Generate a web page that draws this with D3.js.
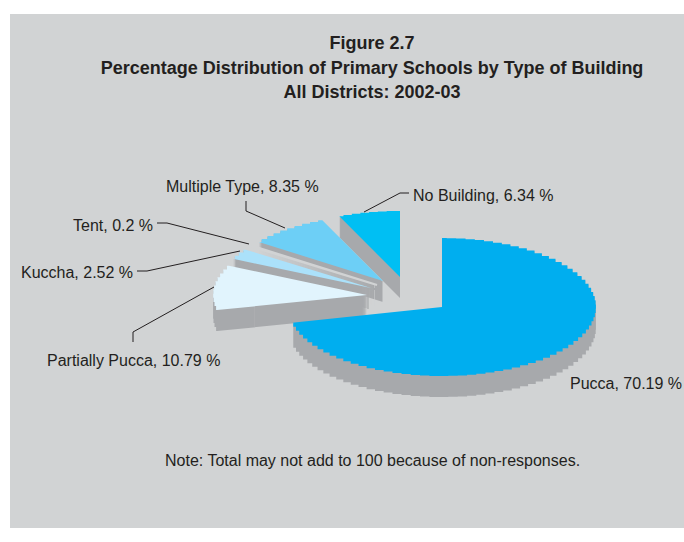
<!DOCTYPE html>
<html><head><meta charset="utf-8">
<style>html,body{margin:0;padding:0;background:#fff}svg{display:block}</style>
<script src="https://cdn.jsdelivr.net/npm/d3@7/dist/d3.min.js"></script></head>
<body><svg id="c" width="684" height="542"></svg>
<script>
const categories = ["Pucca","Partially Pucca","Kuccha","Tent","Multiple Type","No Building"];
const shares = [70.19,10.79,2.52,0.2,8.35,6.34];
const labelTexts = ["Pucca, 70.19 %","Partially Pucca, 10.79 %","Kuccha, 2.52 %","Tent, 0.2 %","Multiple Type, 8.35 %","No Building, 6.34 %"];
const titleLines = ["Figure 2.7","Percentage Distribution of Primary Schools by Type of Building","All Districts: 2002-03"];
const noteText = "Note: Total may not add to 100 because of non-responses.";

const BG="#d1d3d4", WALL="#a7a9ac", INK="#231f20";
const fills=["#00aeef",  "#e1f4fd","#abe1fa",BG,"#6dcff6","#00bff3"];
const walls=[WALL,WALL,WALL,BG,WALL,WALL];
const apex=[[442,307],[367,295],[371,288],[377,285],[383,281],[400,277]];
const radiiY=[69,66,66,66,66,66];
const labelPos=[[570,389],[47,366],[21,278],[73,231],[166,192],[413,201]];
const leaders=[null,
 [[133,342],[133,332],[214,287]],
 [[137,271],[147,271],[240,251]],
 [[157,223],[167,223],[249,244]],
 [[246,201],[246,211],[285,228]],
 [[409,193],[400,193],[364,212]]];
const RX=154, DEPTH=21;

const svg=d3.select("#c");
svg.append("rect").attr("x",10).attr("y",14).attr("width",674).attr("height",514).attr("fill",BG);

const t=svg.append("g").attr("font-family","'Liberation Sans',Arial,sans-serif").attr("font-weight","bold").attr("font-size",18).attr("fill",INK).attr("text-anchor","middle");
titleLines.forEach((s,i)=>t.append("text").attr("x",372).attr("y",[49,74,98][i]).text(s));

const pie=d3.pie().sort(null).value(d=>d);
const arcs=pie(shares);
const step=d3.line().curve(d3.curveStep);
function wedge(a,i,dy){
  const [cx,cy]=apex[i];
  const n=Math.max(1,Math.round((a.endAngle-a.startAngle)/(3.5*Math.PI/180)));
  const pts=d3.range(n+1).map(k=>{
    const th=a.startAngle+(a.endAngle-a.startAngle)*k/n;
    return [cx+RX*Math.sin(th),cy+dy-radiiY[i]*Math.cos(th)];
  });
  return `M${cx},${cy+dy}L${pts[0]}`+step(pts).replace(/^M[^L]*/,"")+"Z";
}
const order=[5,4,3,2,1,0];
const pg=svg.append("g");
order.forEach(i=>{
  const a=arcs[i];
  pg.append("path").attr("fill",walls[i]).attr("d",d3.range(1,DEPTH+1).map(d=>wedge(a,i,d)).join(""));
  const top=pg.append("path").attr("fill",fills[i]).attr("d",wedge(a,i,0));
  if(categories[i]==="Tent") top.attr("stroke",BG).attr("stroke-width",2);
});

const line=d3.line();
leaders.forEach(l=>{ if(l) svg.append("path").attr("d",line(l)).attr("fill","none").attr("stroke",INK).attr("stroke-width",1); });

const lg=svg.append("g").attr("font-family","'Liberation Sans',Arial,sans-serif").attr("font-size",16).attr("fill",INK);
labelTexts.forEach((s,i)=>lg.append("text").attr("x",labelPos[i][0]).attr("y",labelPos[i][1]).text(s));
lg.append("text").attr("x",165).attr("y",466).text(noteText);
</script></body></html>
